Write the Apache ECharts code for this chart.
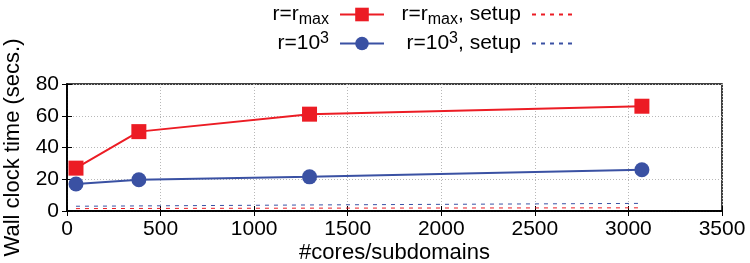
<!DOCTYPE html>
<html>
<head>
<meta charset="utf-8">
<script src="https://cdn.jsdelivr.net/npm/echarts@6/dist/echarts.min.js"></script>
<style>
  html, body { margin: 0; padding: 0; background: #fff; }
  #chart { width: 750px; height: 263px; }
</style>
</head>
<body>
<div id="chart"></div>
<script>
  // data
  const cores = [48, 384, 1296, 3072];
  const rMax = [27, 50, 61, 66];
  const r1e3 = [17, 19.7, 21.5, 26];
  const rMaxSetup = [1.5, 1.6, 1.8, 2.0];
  const r1e3Setup = [3.0, 3.2, 3.8, 4.8];

  const xTicks = [0, 500, 1000, 1500, 2000, 2500, 3000, 3500];
  const yTicks = [0, 20, 40, 60, 80];

  const RED = '#ec1c24';
  const BLUE = '#3a51a3';
  const FONT = 'Liberation Sans';

  const pairs = (xs, ys) => xs.map((x, i) => [x, ys[i]]);

  const legendLabels = {
    'r=rmax': '{t|r=r}{sub|max}{gap|}',
    'r=10^3': '{t|r=10}{sup|3}{gap|}',
    'r=rmax, setup': '{t|r=r}{sub|max}{t|, setup}{gap|}',
    'r=10^3, setup': '{t|r=10}{sup|3}{t|, setup}{gap|}',
  };

  const legendText = {
    color: '#000',
    fontFamily: FONT,
    rich: {
      t: { fontSize: 21, fontFamily: FONT, color: '#000' },
      sub: { fontSize: 16, fontFamily: FONT, color: '#000', padding: [10, 0, 0, 0] },
      sup: { fontSize: 16, fontFamily: FONT, color: '#000', padding: [0, 0, 10, 0] },
      gap: { width: 6 },
    },
  };

  const chart = echarts.init(document.getElementById('chart'));

  const legendBase = {
    orient: 'vertical',
    align: 'right',
    top: 4,
    padding: 0,
    itemWidth: 44,
    itemHeight: 17,
    itemGap: 3,
    formatter: (n) => legendLabels[n],
    textStyle: legendText,
  };

  const option = {
    animation: false,
    textStyle: { fontFamily: FONT },
    legend: [
      Object.assign({}, legendBase, {
        data: ['r=rmax', 'r=10^3'],
        right: 365,
      }),
      Object.assign({}, legendBase, {
        data: [
          { name: 'r=rmax, setup', itemStyle: { opacity: 0 } },
          { name: 'r=10^3, setup', itemStyle: { opacity: 0 } },
        ],
        right: 173,
      }),
    ],
    grid: {
      left: 67,
      right: 28,
      top: 84,
      bottom: 52,
      containLabel: false,
      outerBoundsMode: 'none',
      show: true,
      borderColor: '#000',
      borderWidth: 1.5,
    },
    xAxis: [
      {
        type: 'value',
        min: xTicks[0],
        max: xTicks[xTicks.length - 1],
        interval: 500,
        name: '#cores/subdomains',
        nameLocation: 'middle',
        nameGap: 31,
        nameTextStyle: { fontSize: 22, color: '#000', fontFamily: FONT },
        axisLine: { show: true, lineStyle: { color: '#000', width: 1.5 } },
        axisTick: { show: true, inside: true, length: 5, lineStyle: { color: '#000' } },
        axisLabel: { fontSize: 21, color: '#000', fontFamily: FONT, margin: 8, formatter: (v) => String(v) },
        splitLine: { show: true, lineStyle: { color: '#b8b8b8', type: [1, 2], width: 1 } },
      },
      {
        type: 'value',
        position: 'top',
        min: xTicks[0],
        max: xTicks[xTicks.length - 1],
        interval: 500,
        axisLine: { show: true, lineStyle: { color: '#000', width: 1.5 } },
        axisTick: { show: true, inside: true, length: 5, lineStyle: { color: '#000' } },
        axisLabel: { show: false },
        splitLine: { show: false },
      },
    ],
    yAxis: [
      {
        type: 'value',
        min: yTicks[0],
        max: yTicks[yTicks.length - 1],
        interval: 20,
        name: 'Wall clock time (secs.)',
        nameLocation: 'middle',
        nameGap: 43,
        nameTextStyle: { fontSize: 22, color: '#000', fontFamily: FONT },
        axisLine: { show: true, lineStyle: { color: '#000', width: 1.5 } },
        axisTick: { show: true, inside: true, length: 5, lineStyle: { color: '#000' } },
        axisLabel: { fontSize: 21, color: '#000', fontFamily: FONT, margin: 8 },
        splitLine: { show: true, lineStyle: { color: '#b8b8b8', type: [1, 2], width: 1 } },
      },
      {
        type: 'value',
        position: 'right',
        min: yTicks[0],
        max: yTicks[yTicks.length - 1],
        interval: 20,
        axisLine: { show: true, lineStyle: { color: '#000', width: 1.5 } },
        axisTick: { show: true, inside: true, length: 5, lineStyle: { color: '#000' } },
        axisLabel: { show: false },
        splitLine: { show: false },
      },
    ],
    series: [
      {
        name: 'r=rmax',
        type: 'line',
        data: pairs(cores, rMax),
        symbol: 'rect',
        symbolSize: 15,
        color: RED,
        lineStyle: { color: RED, width: 2 },
        itemStyle: { color: RED },
        z: 3,
      },
      {
        name: 'r=10^3',
        type: 'line',
        data: pairs(cores, r1e3),
        symbol: 'circle',
        symbolSize: 15,
        color: BLUE,
        lineStyle: { color: BLUE, width: 2 },
        itemStyle: { color: BLUE },
        z: 3,
      },
      {
        name: 'r=rmax, setup',
        type: 'line',
        data: pairs(cores, rMaxSetup),
        symbol: 'none',
        color: RED,
        lineStyle: { color: RED, width: 1, type: [4, 5] },
      },
      {
        name: 'r=10^3, setup',
        type: 'line',
        data: pairs(cores, r1e3Setup),
        symbol: 'none',
        color: BLUE,
        lineStyle: { color: BLUE, width: 1, type: [4, 5] },
      },
    ],
  };

  chart.setOption(option);
</script>
</body>
</html>
